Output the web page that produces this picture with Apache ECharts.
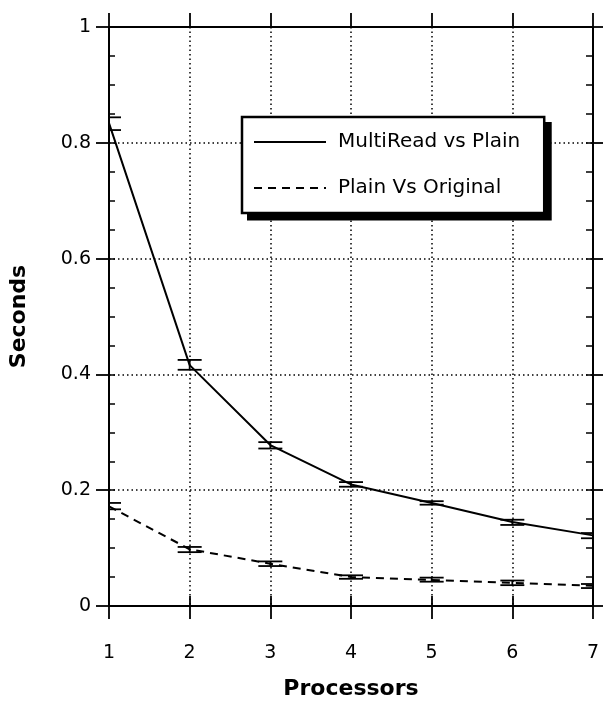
<!DOCTYPE html>
<html>
<head>
<meta charset="utf-8">
<script src="https://cdn.jsdelivr.net/npm/echarts@6/dist/echarts.min.js"></script>
<style>html,body{margin:0;padding:0;background:#fff}#c{width:605px;height:705px}</style>
</head>
<body>
<div id="c"></div>
<script>
// ---- data ----
var processors = [1, 2, 3, 4, 5, 6, 7];
var multiReadVsPlain = [0.834, 0.416, 0.278, 0.210, 0.178, 0.145, 0.122];
var multiReadLow  = [0.822, 0.408, 0.272, 0.206, 0.175, 0.140, 0.117];
var multiReadHigh = [0.844, 0.425, 0.283, 0.214, 0.181, 0.149, 0.126];
var plainVsOriginal = [0.172, 0.098, 0.073, 0.050, 0.045, 0.040, 0.035];
var plainLow  = [0.167, 0.093, 0.069, 0.047, 0.042, 0.036, 0.031];
var plainHigh = [0.178, 0.102, 0.077, 0.053, 0.049, 0.044, 0.038];
var seriesNames = ['MultiRead vs Plain', 'Plain Vs Original'];
var xTitle = 'Processors';
var yTitle = 'Seconds';

var FONT = 'DejaVu Sans';
function pairs(xs, ys) { return xs.map(function (x, i) { return [x, ys[i]]; }); }
function bars(xs, lo, hi) { return xs.map(function (x, i) { return [x, lo[i], hi[i]]; }); }

function renderErr(params, api) {
  var x = api.value(0);
  var p1 = api.coord([x, api.value(1)]);
  var p2 = api.coord([x, api.value(2)]);
  var hw = 12;
  var st = { stroke: '#000', lineWidth: 1.8 };
  return {
    type: 'group',
    children: [
      { type: 'line', shape: { x1: p1[0] - hw, y1: p1[1], x2: p1[0] + hw, y2: p1[1] }, style: st },
      { type: 'line', shape: { x1: p2[0] - hw, y1: p2[1], x2: p2[0] + hw, y2: p2[1] }, style: st },
      { type: 'line', shape: { x1: p1[0], y1: p1[1], x2: p2[0], y2: p2[1] }, style: st }
    ]
  };
}

var dotted = { color: '#000', width: 1.5, type: [1.5, 3] };
var none = { show: false };

var legendBox = { left: 242, top: 117, shadow: 5 };

var chart = echarts.init(document.getElementById('c'), null, { renderer: 'canvas' });
chart.setOption({
  animation: false,
  backgroundColor: '#fff',
  grid: { left: 106, right: 12, top: 27, bottom: 94 },
  legend: {
    data: seriesNames,
    orient: 'vertical',
    left: legendBox.left, top: legendBox.top,
    padding: [15, 24, 15, 11],
    itemWidth: 72, itemHeight: 20, itemGap: 26,
    backgroundColor: '#fff',
    borderColor: '#000', borderWidth: 2.5, borderRadius: 0,
    z: 6,
    itemStyle: { color: 'rgba(0,0,0,0)', borderWidth: 0, opacity: 0 },
    textStyle: { fontFamily: FONT, fontSize: 20, color: '#000', padding: [0, 0, 0, 7], lineHeight: 20 }
  },
  xAxis: [
    {
      type: 'value', position: 'bottom', min: 1, max: 7, interval: 1,
      name: xTitle, nameLocation: 'middle', nameGap: 72,
      nameTextStyle: { fontFamily: FONT, fontSize: 22, fontWeight: 'bold', color: '#000' },
      axisLine: { onZero: false, lineStyle: { color: '#000', width: 2 } },
      axisTick: { inside: false, length: 13, lineStyle: { color: '#000', width: 1.8 } },
      axisLabel: { margin: 38, fontFamily: FONT, fontSize: 19, color: '#000' },
      splitLine: { show: true, lineStyle: dotted }
    },
    {
      type: 'value', position: 'bottom', min: 1, max: 7, interval: 1,
      axisLine: { show: false, onZero: false },
      axisTick: { inside: true, length: 10, lineStyle: { color: '#000', width: 1.8 } },
      axisLabel: none, splitLine: none
    },
    {
      type: 'value', position: 'top', min: 1, max: 7, interval: 1,
      axisLine: { onZero: false, lineStyle: { color: '#000', width: 2 } },
      axisTick: { inside: false, length: 14, lineStyle: { color: '#000', width: 1.8 } },
      axisLabel: none, splitLine: none
    }
  ],
  yAxis: [
    {
      type: 'value', position: 'left', min: 0, max: 1, interval: 0.2,
      name: yTitle, nameLocation: 'middle', nameGap: 79, nameRotate: 90,
      nameTextStyle: { fontFamily: FONT, fontSize: 22, fontWeight: 'bold', color: '#000' },
      axisLine: { onZero: false, lineStyle: { color: '#000', width: 2 } },
      axisTick: { inside: false, length: 13, lineStyle: { color: '#000', width: 1.8 } },
      axisLabel: { margin: 18, fontFamily: FONT, fontSize: 19, color: '#000' },
      splitLine: { show: true, lineStyle: dotted }
    },
    {
      type: 'value', position: 'left', min: 0, max: 1, interval: 0.05,
      axisLine: { show: false, onZero: false },
      axisTick: { inside: true, length: 6, lineStyle: { color: '#000', width: 1.5 } },
      axisLabel: none, splitLine: none
    },
    {
      type: 'value', position: 'right', min: 0, max: 1, interval: 0.05,
      axisLine: { onZero: false, lineStyle: { color: '#000', width: 2 } },
      axisTick: { inside: true, length: 7, lineStyle: { color: '#000', width: 1.5 } },
      axisLabel: none, splitLine: none
    },
    {
      type: 'value', position: 'right', min: 0, max: 1, interval: 0.2,
      axisLine: { show: false, onZero: false },
      axisTick: { inside: false, length: 10, lineStyle: { color: '#000', width: 1.8 } },
      axisLabel: none, splitLine: none
    }
  ],
  series: [
    {
      name: seriesNames[0], type: 'line', xAxisIndex: 0, yAxisIndex: 0,
      data: pairs(processors, multiReadVsPlain),
      symbol: 'none', smooth: false,
      lineStyle: { color: '#000', width: 2, type: 'solid' },
      itemStyle: { color: '#000' }, z: 3
    },
    {
      name: seriesNames[1], type: 'line', xAxisIndex: 0, yAxisIndex: 0,
      data: pairs(processors, plainVsOriginal),
      symbol: 'none', smooth: false,
      lineStyle: { color: '#000', width: 2, type: [8, 6] },
      itemStyle: { color: '#000' }, z: 3
    },
    {
      name: 'err1', type: 'custom', xAxisIndex: 0, yAxisIndex: 0, clip: true,
      data: bars(processors, multiReadLow, multiReadHigh),
      encode: { x: 0, y: [1, 2] }, renderItem: renderErr, z: 4
    },
    {
      name: 'err2', type: 'custom', xAxisIndex: 0, yAxisIndex: 0, clip: true,
      data: bars(processors, plainLow, plainHigh),
      encode: { x: 0, y: [1, 2] }, renderItem: renderErr, z: 4
    }
  ]
});

// drop shadow behind the legend box, sized from the rendered legend
(function () {
  var lv = null;
  try {
    var model = chart.getModel().getComponent('legend', 0);
    lv = chart.getViewOfComponentModel(model);
  } catch (e) {}
  var w = 303, h = 96;
  if (lv && lv.group) {
    var r = lv.group.getBoundingRect();
    if (r && r.width > 0) { w = r.width; h = r.height; }
  }
  chart.setOption({
    graphic: [{
      type: 'rect', z: 5,
      left: legendBox.left + legendBox.shadow, top: legendBox.top + legendBox.shadow,
      shape: { width: w, height: h },
      style: { fill: '#000' }
    }]
  });
})();
</script>
</body>
</html>
